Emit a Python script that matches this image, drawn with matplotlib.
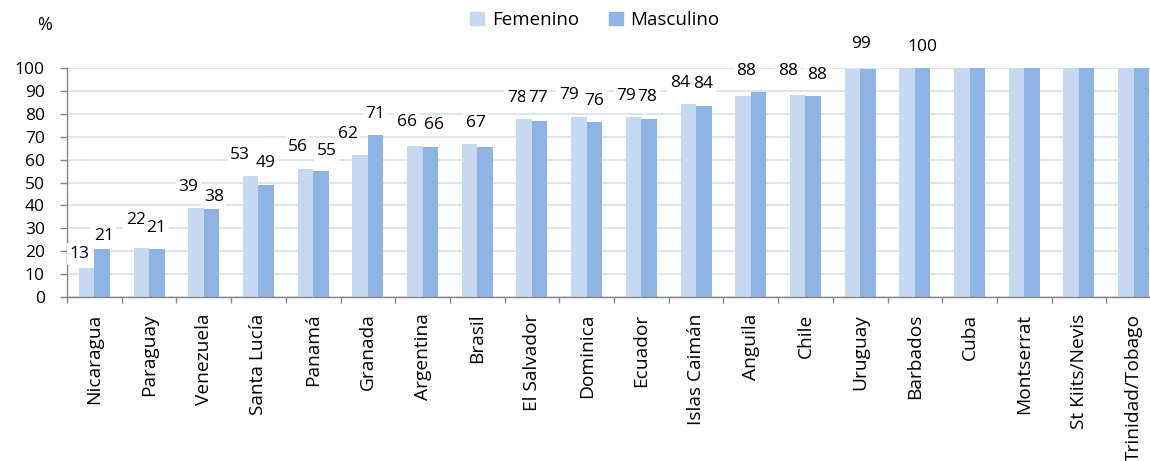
import numpy as np
import matplotlib
matplotlib.use('Agg')
import matplotlib.pyplot as plt
from matplotlib.patches import Patch

plt.rcParams['font.family'] = ['Open Sans', 'DejaVu Sans']

# data
countries = ['Nicaragua', 'Paraguay', 'Venezuela', 'Santa Lucía', 'Panamá', 'Granada',
             'Argentina', 'Brasil', 'El Salvador', 'Dominica', 'Ecuador', 'Islas Caimán',
             'Anguila', 'Chile', 'Uruguay', 'Barbados', 'Cuba', 'Montserrat',
             'St Kiits/Nevis', 'Trinidad/Tobago']
fem = [12.6, 21.6, 38.9, 53.0, 56.0, 62.0, 66.0, 66.6, 77.9, 78.6, 78.6, 84.1, 87.6, 88.1, 99.4,
       100, 100, 100, 100, 100]
masc = [21.0, 21.0, 38.4, 49.0, 55.2, 70.7, 65.6, 65.5, 76.9, 76.3, 77.9, 83.6, 89.7, 87.6, 99.4,
        100, 100, 100, 100, 100]

# label layout (y in data units, dx in pixels from bar centre); None = no label
fem_lab_y = [18.8, 33.7, 48.1, 62.2, 65.6, 71, 76.5, 76.2, 87.1, 88.1, 87.8, 93.3, 98.9, 98.9,
             110.5, 109.3, None, None, None, None]
fem_lab_dx = [-7.3, -5.6, -7.7, -10.4, -7.9, -12.5, -8, 6.2, -7, -10, -7.6, -8.3, 3.3, -9.7,
              8.6, 15, 0, 0, 0, 0]
masc_lab_y = [26.8, 30, 43.7, 58.3, 63.7, 80, 75, None, 86.7, 85.7, 87.4, 92.9, None, 97.1,
              None, None, None, None, None, None]
masc_lab_dx = [1.6, -0.6, 2.2, -0.7, 5.8, -0.3, 4.2, 0, -2, -0.4, -1.6, -0.5, 0, 3.8,
               0, 0, 0, 0, 0, 0]

n = len(countries)
c_fem = '#c6d9f1'
c_masc = '#8eb4e3'
grey = '#868686'

W, H = 1150, 461
fig = plt.figure(figsize=(W / 100, H / 100), dpi=100)
grp = 54.7
ax = fig.add_axes([67 / W, (H - 297) / H, n * grp / W, 229 / H])

x = np.arange(n)
w = 0.283
ax.bar(x - w / 2, fem, w, color=c_fem, zorder=2)
ax.bar(x + w / 2, masc, w, color=c_masc, zorder=2)

ax.set_xlim(-0.5, n - 0.5)
ax.set_ylim(0, 100)
ax.set_yticks(np.arange(0, 101, 10))
ax.yaxis.grid(True, color='#dce6f2', lw=1.4, zorder=0)
ax.set_axisbelow(True)

for s in ['top', 'right']:
    ax.spines[s].set_visible(False)
for s in ['left', 'bottom']:
    ax.spines[s].set_color(grey)
    ax.spines[s].set_linewidth(1.0)

ax.tick_params(axis='y', length=5, width=1, color=grey, pad=11, labelsize=12.5)
ax.set_xticks(x)
ax.set_xticklabels(countries, rotation=90, fontsize=13.8, va='top')
ax.tick_params(axis='x', which='major', length=0, pad=12)
ax.set_xticks(np.arange(-0.5, n, 1), minor=True)
ax.tick_params(axis='x', which='minor', length=4.5, width=1, color=grey)

box = dict(boxstyle='square,pad=0.15', fc='white', ec='none')
for i in range(n):
    if fem_lab_y[i] is not None:
        ax.annotate(f"{round(fem[i])}", xy=(x[i] - w / 2, fem_lab_y[i]),
                    xytext=(fem_lab_dx[i] * 0.72, 0), textcoords='offset points',
                    ha='center', va='center', fontsize=12.5, bbox=box,
                    annotation_clip=False, zorder=5)
    if masc_lab_y[i] is not None:
        ax.annotate(f"{round(masc[i])}", xy=(x[i] + w / 2, masc_lab_y[i]),
                    xytext=(masc_lab_dx[i] * 0.72, 0), textcoords='offset points',
                    ha='center', va='center', fontsize=12.5, bbox=box,
                    annotation_clip=False, zorder=5)

handles = [Patch(color=c_fem, label='Femenino'), Patch(color=c_masc, label='Masculino')]
fig.legend(handles=handles, loc='center', bbox_to_anchor=(595 / W, 1 - 20 / H), ncol=2,
           frameon=False, fontsize=13.5, handlelength=0.75, handleheight=0.75,
           handletextpad=0.4, columnspacing=1.6)

fig.text(45 / W, 1 - 25 / H, '%', ha='center', va='center', fontsize=13)

fig.savefig('out.png', dpi=100)
